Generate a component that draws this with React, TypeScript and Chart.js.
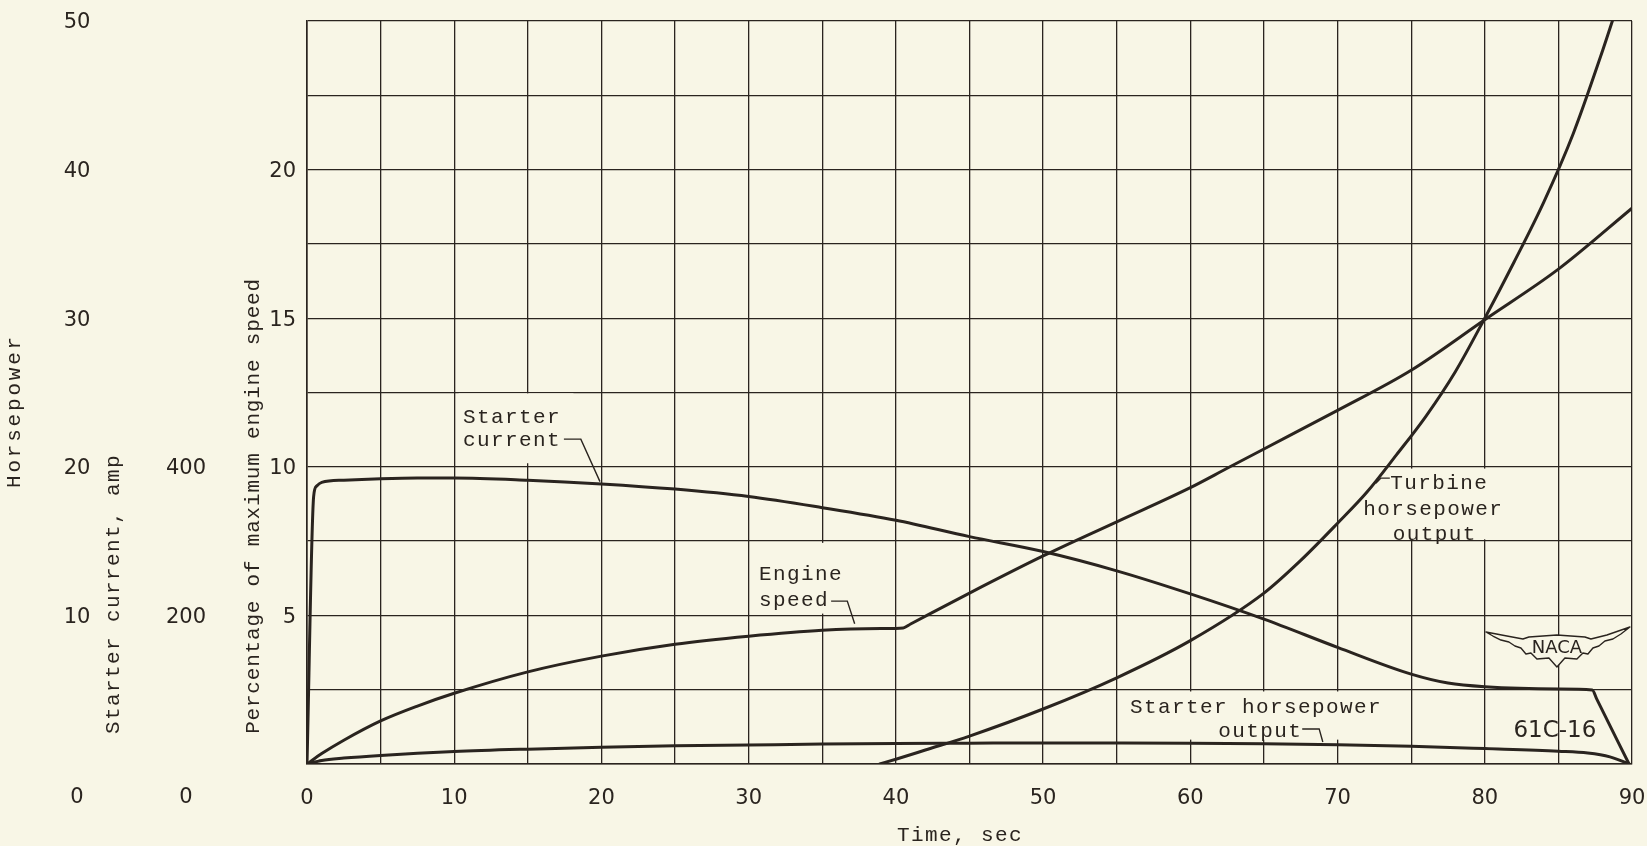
import React, { useEffect, useRef } from "react";
import { Chart, registerables } from "chart.js";

Chart.register(...registerables);

const INK = "#2a241f";
const PAPER = "#f8f6e6";
const TYPE_FONT = '"Liberation Mono", "DejaVu Sans Mono", monospace';
const NUM_FONT = '"DejaVu Sans", "Liberation Sans", sans-serif';

// ---- tick labels ----
const timeLabels = [0, 10, 20, 30, 40, 50, 60, 70, 80, 90];
const percentLabels = [5, 10, 15, 20];
const horsepowerLabels = [10, 20, 30, 40, 50];
const ampLabels = [200, 400];

// ---- Engine speed (percentage of maximum engine speed) ----
const speedTime = [0, 1, 2.5, 5, 7.5, 10, 15, 20, 25, 30, 35, 39, 40.5, 41, 45, 50, 55, 60, 62.5, 65, 70, 75, 80, 85, 90];
const speedPercent = [0, 0.35, 0.8, 1.45, 1.95, 2.38, 3.1, 3.63, 4.03, 4.3, 4.5, 4.56, 4.58, 4.71, 5.75, 7.0, 8.15, 9.3, 9.95, 10.6, 11.9, 13.25, 14.95, 16.65, 18.7];

// ---- Starter current (amp) ----
const currentTime = [0, 0.45, 0.65, 1, 2.5, 5, 7.5, 10, 15, 20, 25, 30, 35, 40, 45, 50, 55, 60, 65, 70, 75, 77.5, 80, 85, 87.3, 87.6, 89.8];
const currentAmp = [0, 360, 374, 379, 382, 384, 385, 385, 382, 377, 370, 360, 345, 328, 306, 286, 260, 229, 195, 157, 121, 109, 104, 101, 99.6, 87.6, 0];

// ---- Turbine horsepower output (hp) ----
const turbineTime = [38.9, 40, 42, 45, 50, 55, 60, 65, 67.5, 70, 72, 74, 76, 78, 80, 82, 84, 86, 88, 88.8];
const turbineHp = [0, 0.32, 0.94, 1.88, 3.7, 5.8, 8.3, 11.5, 13.7, 16.2, 18.3, 20.8, 23.4, 26.4, 30, 33.8, 37.8, 42.4, 48, 50.4];

// ---- Starter horsepower output (hp) ----
const starterHpTime = [0, 1, 2.5, 5, 10, 15, 20, 25, 30, 35, 40, 45, 50, 55, 60, 65, 70, 75, 80, 85, 87, 88.5, 89.8];
const starterHp = [0, 0.24, 0.4, 0.58, 0.84, 1.0, 1.12, 1.22, 1.28, 1.34, 1.38, 1.4, 1.42, 1.42, 1.4, 1.36, 1.3, 1.2, 1.04, 0.86, 0.74, 0.48, 0];

// ---- annotation layout (data coordinates: time, percent) ----
const patches: number[][] = [
  [10.3, 18.1, 10.12, 12.47],
  [30.3, 37.0, 5.06, 7.44],
  [71.4, 81.9, 7.56, 9.94],
  [55.5, 73.6, 0.82, 2.44],
];
const notes: { text: string; t: number; v: number; align: CanvasTextAlign }[] = [
  { text: "Starter", t: 10.6, v: 11.65, align: "left" },
  { text: "current", t: 10.6, v: 10.88, align: "left" },
  { text: "Engine", t: 30.7, v: 6.38, align: "left" },
  { text: "speed", t: 30.7, v: 5.52, align: "left" },
  { text: "Turbine", t: 76.9, v: 9.44, align: "center" },
  { text: "horsepower", t: 76.5, v: 8.58, align: "center" },
  { text: "output", t: 76.6, v: 7.74, align: "center" },
  { text: "Starter horsepower", t: 55.9, v: 1.9, align: "left" },
  { text: "output", t: 61.9, v: 1.08, align: "left" },
];
const leaders: number[][][] = [
  [[17.45, 10.93], [18.6, 10.93], [19.9, 9.5]],
  [[35.6, 5.48], [36.7, 5.48], [37.2, 4.72]],
  [[72.6, 9.45], [72.95, 9.62], [73.55, 9.62]],
  [[67.6, 1.18], [68.75, 1.18], [69.0, 0.74]],
];

const pts = (xs: number[], ys: number[]) => xs.map((x, i) => ({ x, y: ys[i] }));

function typeText(
  ctx: CanvasRenderingContext2D,
  s: string,
  x: number,
  y: number,
  align: CanvasTextAlign,
  rotate = false,
  spacing = 1.4
) {
  ctx.save();
  ctx.font = `21px ${TYPE_FONT}`;
  (ctx as any).letterSpacing = `${spacing}px`;
  ctx.fillStyle = INK;
  ctx.textAlign = align;
  ctx.textBaseline = "middle";
  ctx.translate(x, y);
  if (rotate) ctx.rotate(-Math.PI / 2);
  ctx.fillText(s, 0, 0);
  ctx.restore();
}

function numText(ctx: CanvasRenderingContext2D, s: string, x: number, y: number) {
  ctx.save();
  ctx.font = `21px ${NUM_FONT}`;
  ctx.fillStyle = INK;
  ctx.textAlign = "center";
  ctx.textBaseline = "middle";
  ctx.fillText(s, x, y + 2);
  ctx.restore();
}

const wing = [
  [-71, -14], [-50, -10], [-34, -7], [-28, -9], [0, -11], [28, -9], [34, -7], [50, -11], [73, -19],
  [64, -12], [56, -7], [48, -5], [42, 0], [36, 2], [31, 8], [26, 7], [20, 13], [8, 12], [0, 21],
  [-8, 12], [-20, 13], [-26, 7], [-31, 8], [-36, 2], [-42, 0], [-48, -4], [-56, -6], [-64, -10],
];

const decorPlugin = {
  id: "decor",
  beforeDraw(chart: any) {
    const { ctx, width, height } = chart;
    ctx.save();
    ctx.fillStyle = PAPER;
    ctx.fillRect(0, 0, width, height);
    ctx.restore();
  },
  beforeDatasetsDraw(chart: any) {
    const { ctx } = chart;
    const xs = chart.scales.x, ys = chart.scales.y;
    ctx.save();
    ctx.fillStyle = PAPER;
    for (const p of patches) {
      const x0 = xs.getPixelForValue(p[0]), x1 = xs.getPixelForValue(p[1]);
      const y0 = ys.getPixelForValue(p[3]), y1 = ys.getPixelForValue(p[2]);
      ctx.fillRect(x0, y0, x1 - x0, y1 - y0);
    }
    // NACA wings
    const cx = xs.getPixelForValue(84.9), cy = ys.getPixelForValue(3.97);
    ctx.beginPath();
    wing.forEach(([dx, dy], i) => (i ? ctx.lineTo(cx + dx, cy + dy) : ctx.moveTo(cx + dx, cy + dy)));
    ctx.closePath();
    ctx.fill();
    ctx.strokeStyle = INK;
    ctx.lineWidth = 1.4;
    ctx.lineJoin = "round";
    ctx.stroke();
    ctx.font = `18px ${NUM_FONT}`;
    ctx.fillStyle = INK;
    ctx.textAlign = "center";
    ctx.textBaseline = "middle";
    ctx.fillText("NACA", cx, cy + 2);
    ctx.restore();
  },
  afterDraw(chart: any) {
    const { ctx, chartArea } = chart;
    const xs = chart.scales.x, ys = chart.scales.y;
    const yAmp = chart.scales.yAmp, yHp = chart.scales.yHp;
    const zeroY = chartArea.bottom + 32;
    // left tick columns
    for (const h of horsepowerLabels) numText(ctx, String(h), 77, yHp.getPixelForValue(h));
    for (const a of ampLabels) numText(ctx, String(a), 186, yAmp.getPixelForValue(a));
    numText(ctx, "0", 77, zeroY);
    numText(ctx, "0", 186, zeroY);
    // axis titles
    typeText(ctx, "Horsepower", 14, 411, "center", true, 2.8);
    typeText(ctx, "Starter current, amp", 113, 594, "center", true, 1.4);
    typeText(ctx, "Percentage of maximum engine speed", 253, 506, "center", true, 0.8);
    typeText(ctx, "Time, sec", 960, 835, "center");
    // notes
    for (const n of notes) typeText(ctx, n.text, xs.getPixelForValue(n.t), ys.getPixelForValue(n.v), n.align);
    ctx.save();
    ctx.strokeStyle = INK;
    ctx.lineWidth = 1.4;
    for (const l of leaders) {
      ctx.beginPath();
      l.forEach(([t, v], i) => {
        const px = xs.getPixelForValue(t), py = ys.getPixelForValue(v);
        i ? ctx.lineTo(px, py) : ctx.moveTo(px, py);
      });
      ctx.stroke();
    }
    ctx.restore();
    ctx.save();
    ctx.font = `23px ${NUM_FONT}`;
    ctx.fillStyle = INK;
    ctx.textAlign = "center";
    ctx.textBaseline = "middle";
    ctx.fillText("61C-16", xs.getPixelForValue(84.76), ys.getPixelForValue(1.1));
    ctx.restore();
  },
};

const lineStyle = {
  borderColor: INK,
  borderWidth: 3,
  pointRadius: 0,
  cubicInterpolationMode: "monotone" as const,
  borderCapStyle: "round" as const,
  borderJoinStyle: "round" as const,
  fill: false,
};

export default function App() {
  const ref = useRef<HTMLCanvasElement>(null);
  useEffect(() => {
    const tickFont = { family: NUM_FONT, size: 21 };
    const chart = new Chart(ref.current!, {
      type: "line",
      data: {
        datasets: [
          { ...lineStyle, label: "Engine speed", data: pts(speedTime, speedPercent), yAxisID: "y" },
          { ...lineStyle, label: "Starter current", data: pts(currentTime, currentAmp), yAxisID: "yAmp" },
          { ...lineStyle, label: "Turbine horsepower output", data: pts(turbineTime, turbineHp), yAxisID: "yHp" },
          { ...lineStyle, label: "Starter horsepower output", data: pts(starterHpTime, starterHp), yAxisID: "yHp" },
        ],
      },
      options: {
        responsive: false,
        animation: false,
        layout: { padding: { left: 0, right: 15, top: 21, bottom: 0 } },
        plugins: { legend: { display: false }, tooltip: { enabled: false } },
        scales: {
          x: {
            type: "linear",
            min: 0,
            max: 90,
            ticks: {
              stepSize: 5,
              autoSkip: false,
              maxRotation: 0,
              padding: 22,
              color: INK,
              font: tickFont,
              callback: (v: any) => (timeLabels.includes(Number(v)) ? String(v) : ""),
            },
            grid: { color: INK, lineWidth: 1.3, drawTicks: false },
            border: { color: INK, width: 1.6 },
            afterFit: (s: any) => {
              s.height = 82;
              s.paddingLeft = 0;
              s.paddingRight = 0;
            },
          },
          y: {
            type: "linear",
            position: "left",
            min: 0,
            max: 25,
            ticks: {
              stepSize: 2.5,
              autoSkip: false,
              padding: 11,
              labelOffset: 2,
              color: INK,
              font: tickFont,
              callback: (v: any) => (percentLabels.includes(Number(v)) ? String(v) : ""),
            },
            grid: { color: INK, lineWidth: 1.3, drawTicks: false },
            border: { color: INK, width: 1.6 },
            afterFit: (s: any) => {
              s.width = 307;
              s.paddingTop = 0;
              s.paddingBottom = 0;
            },
          },
          yAmp: { type: "linear", position: "left", min: 0, max: 1000, display: false },
          yHp: { type: "linear", position: "left", min: 0, max: 50, display: false },
        },
      },
      plugins: [decorPlugin],
    });
    return () => chart.destroy();
  }, []);
  return (
    <div style={{ position: "fixed", left: 0, top: 0, width: 1647, height: 846, background: PAPER }}>
      <canvas ref={ref} width={1647} height={846} style={{ display: "block", width: 1647, height: 846 }} />
    </div>
  );
}
